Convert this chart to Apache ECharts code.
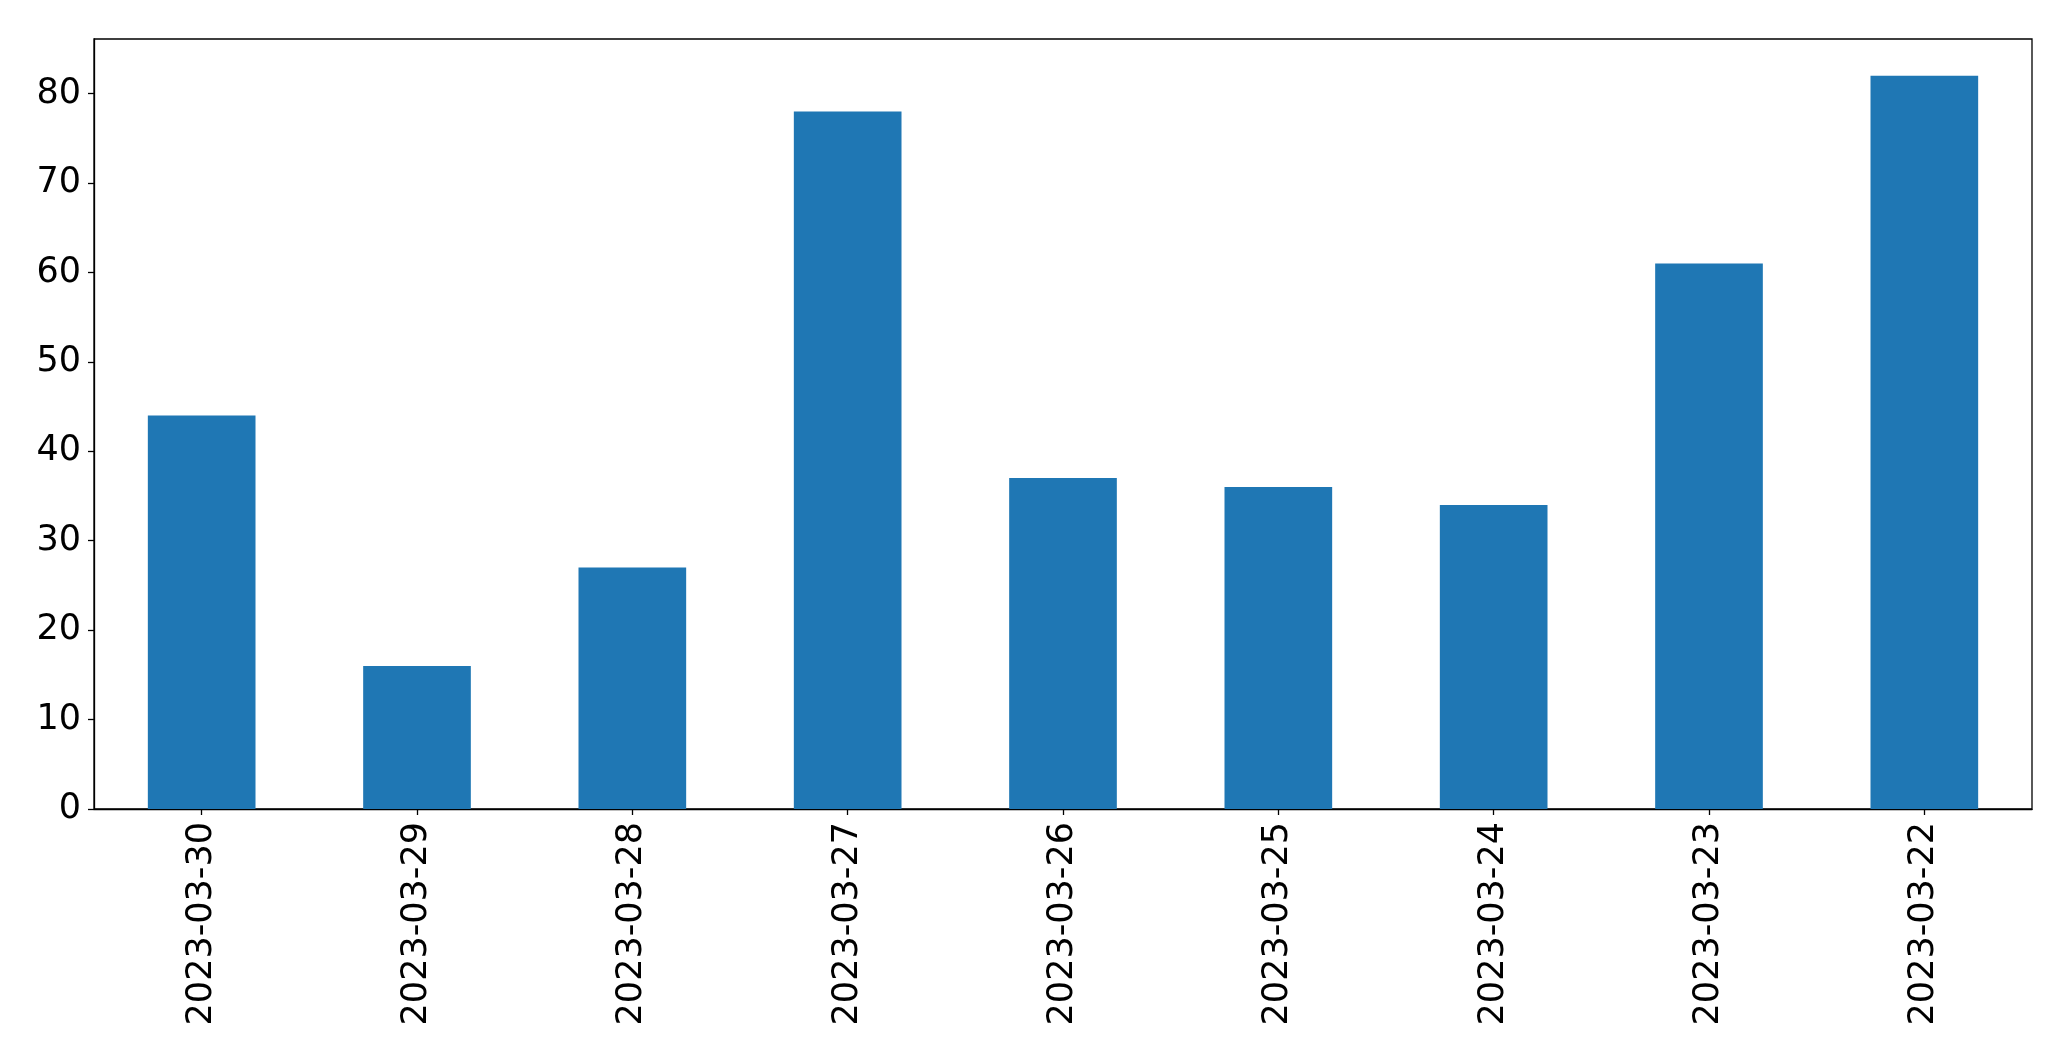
<!DOCTYPE html>
<html>
<head>
<meta charset="utf-8">
<script src="https://cdn.jsdelivr.net/npm/echarts@6/dist/echarts.min.js"></script>
<style>
html,body{margin:0;padding:0;background:#fff;}
#chart{width:2071px;height:1061px;}
</style>
</head>
<body>
<div id="chart"></div>
<script>
const categories = ['2023-03-30','2023-03-29','2023-03-28','2023-03-27','2023-03-26','2023-03-25','2023-03-24','2023-03-23','2023-03-22'];
const values = [44, 16, 27, 78, 37, 36, 34, 61, 82];
const yTicks = [0, 10, 20, 30, 40, 50, 60, 70, 80];

const chart = echarts.init(document.getElementById('chart'), null, {renderer: 'canvas'});
const font = 'DejaVu Sans';
chart.setOption({
  animation: false,
  backgroundColor: '#ffffff',
  grid: {
    left: 94, right: 39, top: 39, bottom: 252,
    show: true, borderColor: '#000', borderWidth: 1.3, backgroundColor: 'transparent'
  },
  xAxis: {
    type: 'category',
    data: categories,
    boundaryGap: true,
    axisLine: {show: true, lineStyle: {color: '#000', width: 1.3}},
    axisTick: {show: true, alignWithLabel: true, length: 6, lineStyle: {color: '#000', width: 1.3}},
    axisLabel: {rotate: 90, fontFamily: font, fontSize: 35, color: '#000', margin: 13, interval: 0},
    splitLine: {show: false}
  },
  yAxis: {
    type: 'value',
    min: 0,
    max: 86.1,
    interval: 10,
    axisLine: {show: true, lineStyle: {color: '#000', width: 1.3}},
    axisTick: {show: true, length: 6, lineStyle: {color: '#000', width: 1.3}},
    axisLabel: {
      fontFamily: font, fontSize: 35, color: '#000', margin: 13,
      verticalAlign: 'middle',
      padding: [10, 0, 0, 0],
      showMaxLabel: false,
      formatter: function (v) { return yTicks.indexOf(v) >= 0 ? String(v) : ''; }
    },
    splitLine: {show: false}
  },
  series: [{
    type: 'bar',
    data: values,
    barWidth: '50%',
    itemStyle: {color: '#1f77b4'}
  }]
});
</script>
</body>
</html>
